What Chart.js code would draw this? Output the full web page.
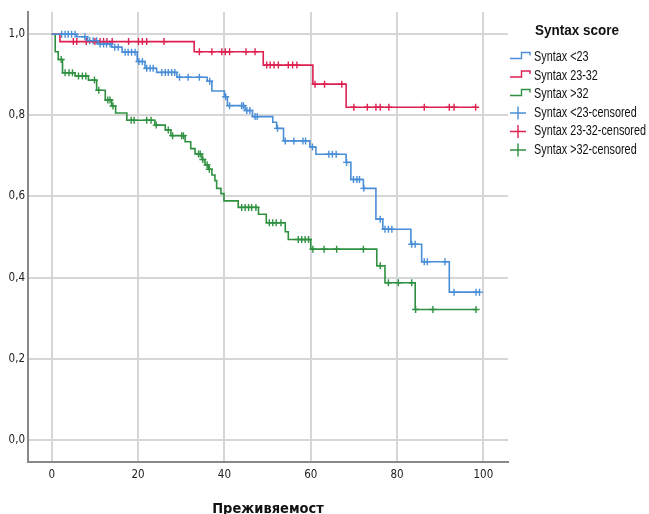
<!DOCTYPE html>
<html>
<head>
<meta charset="utf-8">
<script src="https://cdn.jsdelivr.net/npm/chart.js@4.4.1/dist/chart.umd.min.js"></script>
<style>
  body { margin: 0; background: #fff; }
  #wrap { width: 649px; height: 514px; }
</style>
</head>
<body>
<div id="wrap"><canvas id="km" width="649" height="514"></canvas></div>
<script>
const FONT = "'DejaVu Sans Condensed', 'Liberation Sans Narrow', 'Liberation Sans', Arial, sans-serif";
const LEGEND_FONT = "'Liberation Sans', Arial, sans-serif";

const xTicks = [0, 20, 40, 60, 80, 100];
const yTicks = [0, 0.2, 0.4, 0.6, 0.8, 1.0];
const xTitle = 'Преживяемост';
const legendTitle = 'Syntax score';

const groupLabels = ['Syntax <23', 'Syntax 23-32', 'Syntax >32'];
const groupColors = ['#4a8ed8', '#dd2050', '#2f9140'];

// Syntax <23: event times, survival after each step, censored times
const lowTimes = [0, 5.8, 8.3, 10.8, 13.9, 16.3, 19.8, 21.6, 24.3, 29.0, 36.0, 37.1, 40.0, 40.7, 44.8, 46.5, 51.2, 52.1, 53.7, 59.8, 61.2, 68.2, 69.3, 72.2, 75.1, 76.7, 83.2, 85.7, 92.1];
const lowSurv = [1.0, 0.994, 0.984, 0.976, 0.968, 0.956, 0.933, 0.916, 0.906, 0.894, 0.884, 0.860, 0.846, 0.824, 0.812, 0.797, 0.783, 0.768, 0.737, 0.722, 0.704, 0.684, 0.642, 0.620, 0.544, 0.519, 0.482, 0.439, 0.364];
const lowCensored = [2.3, 3.1, 3.8, 4.6, 5.4, 7.7, 8.8, 9.6, 10.4, 11.2, 12.0, 12.7, 13.5, 14.6, 15.4, 17.0, 17.7, 18.5, 19.3, 20.2, 21.0, 22.0, 22.8, 23.5, 25.5, 26.3, 27.0, 27.8, 28.5, 29.6, 31.6, 34.2, 36.6, 40.3, 41.2, 44.0, 44.4, 45.2, 45.9, 47.1, 47.6, 52.3, 54.1, 56.1, 58.2, 58.8, 60.4, 64.2, 65.0, 65.9, 68.3, 69.9, 70.7, 71.3, 72.3, 76.1, 77.2, 78.0, 78.8, 83.4, 84.2, 86.3, 87.0, 91.1, 93.2, 98.3, 99.1];

// Syntax 23-32
const midTimes = [0, 1.9, 33.0, 49.0, 60.5, 68.2];
const midSurv = [1.0, 0.982, 0.957, 0.924, 0.877, 0.820];
const midCensored = [5.0, 5.8, 8.0, 10.0, 11.2, 12.0, 12.8, 14.0, 17.8, 20.1, 21.0, 22.0, 26.0, 34.2, 37.1, 39.4, 40.2, 41.2, 45.0, 47.1, 49.8, 50.6, 51.5, 52.5, 54.8, 55.8, 56.8, 61.0, 63.2, 67.2, 70.0, 73.1, 75.1, 76.1, 78.1, 86.3, 92.1, 93.2, 98.2];

// Syntax >32
const highTimes = [0, 0.8, 1.5, 2.5, 5.4, 8.5, 10.4, 12.4, 13.9, 14.8, 17.4, 23.9, 26.3, 27.6, 30.9, 32.2, 33.2, 34.8, 35.5, 36.3, 37.1, 37.8, 38.2, 39.2, 39.9, 43.2, 47.9, 49.7, 54.1, 54.8, 60.0, 75.3, 77.2, 84.2];
const highSurv = [1.0, 0.957, 0.938, 0.905, 0.897, 0.887, 0.862, 0.838, 0.823, 0.806, 0.788, 0.776, 0.764, 0.750, 0.735, 0.718, 0.705, 0.691, 0.678, 0.667, 0.653, 0.639, 0.620, 0.607, 0.589, 0.573, 0.556, 0.535, 0.513, 0.494, 0.470, 0.429, 0.387, 0.321];
const highCensored = [2.2, 3.1, 4.0, 4.8, 6.2, 7.1, 7.9, 9.9, 10.9, 13.0, 13.5, 14.2, 18.4, 19.1, 22.0, 23.0, 24.2, 27.0, 28.0, 30.1, 30.5, 34.0, 34.4, 35.0, 36.0, 36.5, 44.0, 44.8, 45.6, 46.3, 47.3, 50.4, 51.2, 52.0, 53.1, 57.1, 57.9, 58.7, 59.5, 60.5, 63.1, 66.0, 72.2, 76.1, 78.0, 80.3, 83.4, 84.3, 88.3, 98.3];

// survival level in force at time t (step function lookup)
function levelAt(times, surv, t) {
    let s = surv[0];
    times.forEach((ti, i) => { if (ti <= t) s = surv[i]; });
    return s;
}

// curve runs on to the last follow-up time
function kmLine(times, surv, censored) {
    const pts = times.map((t, i) => ({x: t, y: surv[i]}));
    const end = Math.max(times[times.length - 1], ...censored);
    pts.push({x: end, y: surv[surv.length - 1]});
    return pts;
}

function censorPoints(times, surv, censored) {
    return censored.map(t => ({x: t, y: levelAt(times, surv, t)}));
}

const groups = [
    [lowTimes, lowSurv, lowCensored],
    [midTimes, midSurv, midCensored],
    [highTimes, highSurv, highCensored],
];

const lineSets = groups.map((g, i) => ({
    label: groupLabels[i],
    data: kmLine(...g),
    borderColor: groupColors[i],
    borderWidth: 1.6,
    stepped: true,
    pointRadius: 0,
    fill: false,
}));

const censorSets = groups.map((g, i) => ({
    label: groupLabels[i] + '-censored',
    data: censorPoints(...g),
    borderColor: groupColors[i],
    backgroundColor: groupColors[i],
    showLine: false,
    pointStyle: 'cross',
    pointRadius: 3.5,
    pointBorderWidth: 1.4,
    pointHoverRadius: 3.5,
}));

// text squeezed sideways to the narrow face of the original
function narrowText(ctx, text, x, y, width) {
    const w = ctx.measureText(text).width;
    const k = Math.min(1, width / w);
    ctx.save();
    ctx.translate(x, y);
    ctx.scale(k, 1);
    ctx.fillText(text, 0, 0);
    ctx.restore();
}

// legend drawn at the right, step icon for curves, cross for censored
const kmLegend = {
    id: 'kmLegend',
    afterDraw(chart) {
        const ctx = chart.ctx;
        ctx.save();
        ctx.fillStyle = '#111';
        ctx.textBaseline = 'middle';
        ctx.font = 'bold 15px ' + LEGEND_FONT;
        ctx.textAlign = 'center';
        narrowText(ctx, legendTitle, 577, 31, 84);
        ctx.font = '14px ' + LEGEND_FONT;
        ctx.textAlign = 'left';
        const k = 112 / ctx.measureText('Syntax 23-32-censored').width;
        chart.data.datasets.forEach((ds, i) => {
            const y = 57.5 + i * 18.5;
            ctx.strokeStyle = ds.borderColor;
            ctx.lineWidth = 1.4;
            ctx.beginPath();
            if (i < 3) {
                ctx.moveTo(510, y + 1);
                ctx.lineTo(521.5, y + 1);
                ctx.lineTo(521.5, y - 5);
                ctx.lineTo(530, y - 5);
                ctx.lineTo(530, y - 2);
            } else {
                ctx.moveTo(510, y);
                ctx.lineTo(526, y);
                ctx.moveTo(518, y - 6.5);
                ctx.lineTo(518, y + 6.5);
            }
            ctx.stroke();
            ctx.fillStyle = '#111';
            narrowText(ctx, ds.label, 534, y, ctx.measureText(ds.label).width * k);
        });
        ctx.restore();
    }
};

new Chart(document.getElementById('km'), {
    type: 'line',
    data: { datasets: [...lineSets, ...censorSets] },
    plugins: [kmLegend],
    options: {
        responsive: false,
        animation: false,
        layout: { padding: { top: 12, right: 141, left: 0, bottom: 0 } },
        plugins: {
            legend: { display: false },
            tooltip: { enabled: false },
        },
        scales: {
            x: {
                type: 'linear',
                min: -5.5,
                max: 105.7,
                afterBuildTicks: scale => { scale.ticks = xTicks.map(v => ({value: v})); },
                afterFit: scale => { scale.height = 52; },
                ticks: {
                    padding: 6,
                    color: '#222',
                    font: { family: FONT, size: 11.5 },
                    callback: v => String(v),
                },
                grid: { color: '#d6d6d6', lineWidth: 2, drawTicks: false },
                border: { color: '#888', width: 2 },
                title: {
                    display: true,
                    text: xTitle,
                    color: '#111',
                    font: { family: FONT, size: 14.5, weight: 'bold', lineHeight: 1 },
                    padding: { top: 0, bottom: -2 },
                },
            },
            y: {
                min: -0.055,
                max: 1.055,
                afterBuildTicks: scale => { scale.ticks = yTicks.map(v => ({value: v})); },
                afterFit: scale => { scale.width = 28; },
                ticks: {
                    padding: 3,
                    color: '#222',
                    font: { family: FONT, size: 11.5 },
                    callback: v => v.toFixed(1).replace('.', ','),
                },
                grid: { color: '#d6d6d6', lineWidth: 2, drawTicks: false },
                border: { color: '#888', width: 2 },
            },
        },
    },
});
</script>
</body>
</html>
